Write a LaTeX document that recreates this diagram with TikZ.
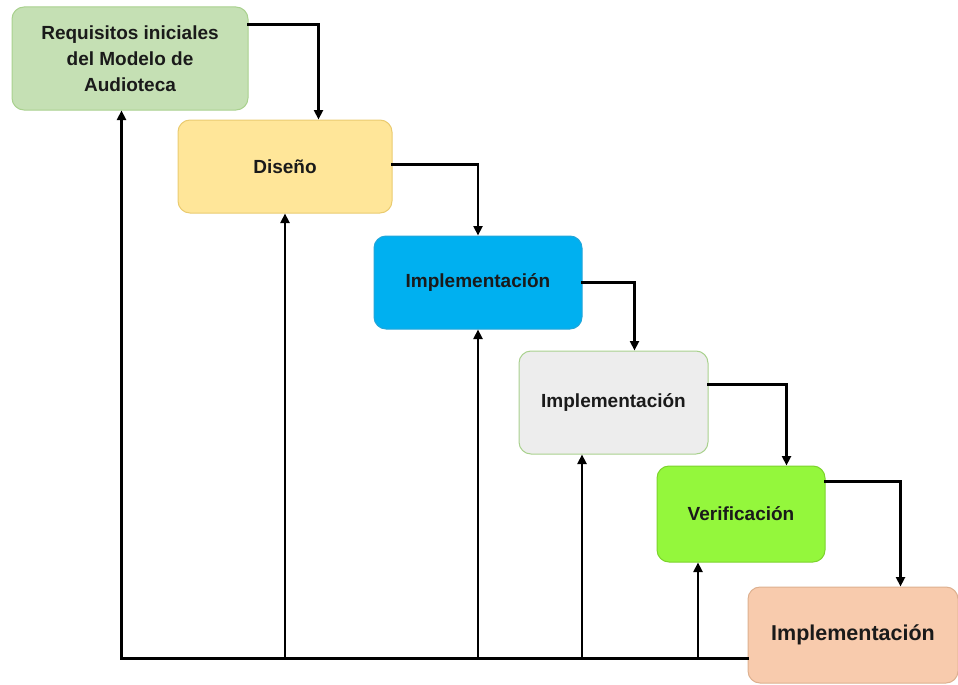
\documentclass[tikz,border=0pt]{standalone}
\usepackage{fontspec}
\setmainfont{Liberation Sans}
\usetikzlibrary{arrows.meta,calc}

\definecolor{reqfill}{HTML}{C5E0B4}
\definecolor{reqline}{HTML}{A9D18E}
\definecolor{disfill}{HTML}{FFE699}
\definecolor{disline}{HTML}{EACB70}
\definecolor{impfill}{HTML}{00B0F0}
\definecolor{impline}{HTML}{22A6DA}
\definecolor{grayfill}{HTML}{EDEDED}
\definecolor{verfill}{HTML}{94F73C}
\definecolor{verline}{HTML}{7CD32C}
\definecolor{peachfill}{HTML}{F8CBAD}
\definecolor{peachline}{HTML}{DDB08F}
\definecolor{inktext}{HTML}{1A1A1A}

\tikzset{
  phase/.style={rectangle, rounded corners=12pt, line width=1pt, align=center,
    text=inktext, font=\bfseries\fontsize{19}{26}\selectfont, inner sep=0pt},
  flow/.style={line width=2.6pt, line cap=rect, -{Triangle[length=9.5pt,width=9pt]}},
}

\begin{document}
\begin{tikzpicture}[x=1pt,y=-1pt]
  \useasboundingbox (0,0) rectangle (958,685);

  % phases of the process
  \node[phase, fill=reqfill, draw=reqline, minimum width=236pt, minimum height=103pt]
    (b1) at (130,58.5) {Requisitos iniciales\\del Modelo de\\Audioteca};
  \node[phase, fill=disfill, draw=disline, minimum width=214pt, minimum height=93pt]
    (b2) at (285,166.5) {Diseño};
  \node[phase, fill=impfill, draw=impline, minimum width=208pt, minimum height=93pt]
    (b3) at (478,282.5) {Implementación};
  \node[phase, fill=grayfill, draw=reqline, minimum width=189pt, minimum height=103pt]
    (b4) at (613.5,402.5) {Implementación};
  \node[phase, fill=verfill, draw=verline, minimum width=168pt, minimum height=96pt]
    (b5) at (741,514) {Verificación};
  \node[phase, fill=peachfill, draw=peachline, minimum width=210pt, minimum height=96pt,
    font=\bfseries\fontsize{21.5}{26}\selectfont]
    (b6) at (853,635) {Implementación};

  % forward cascade
  \draw[flow] ($(b1.north east)+(0,18)$) -| ($(b2.north west)+(141,0)$);
  \draw[flow] ($(b2.north east)+(0,45)$) -| (b3.north);
  \draw[flow] ($(b3.north east)+(0,47)$) -| ($(b4.north west)+(116,0)$);
  \draw[flow] ($(b4.north east)+(0,34)$) -| ($(b5.north west)+(130,0)$);
  \draw[flow] ($(b5.north east)+(0,16)$) -| ($(b6.north west)+(153,0)$);

  % feedback bus along the bottom
  \coordinate (fb) at ($(b6.south west)+(0,-25)$);
  \coordinate (in4) at ($(b4.south)+(-31.5,0)$);
  \coordinate (in5) at ($(b5.south)+(-43,0)$);
  \draw[flow] (fb) -| ($(b1.south west)+(110,0)$);
  \draw[flow] (b2.south |- fb) -- (b2.south);
  \draw[flow] (b3.south |- fb) -- (b3.south);
  \draw[flow] (in4 |- fb) -- (in4);
  \draw[flow] (in5 |- fb) -- (in5);
\end{tikzpicture}
\end{document}
